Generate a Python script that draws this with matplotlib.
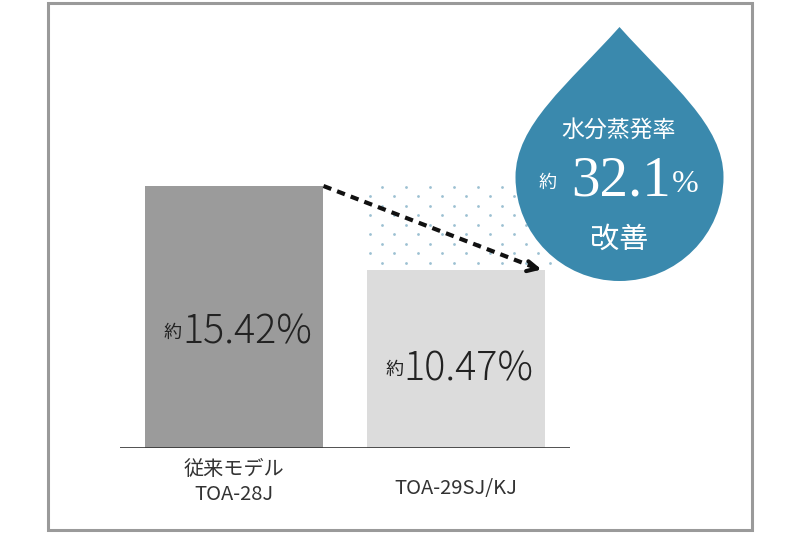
import numpy as np
import matplotlib.pyplot as plt
from matplotlib.path import Path
from matplotlib.patches import PathPatch, Rectangle

plt.rcParams['font.family'] = ['Noto Sans CJK JP', 'DejaVu Sans']

# data
models = ['従来モデル\nTOA-28J', 'TOA-29SJ/KJ']
rates = [15.42, 10.47]
bar_colors = ['#9b9b9b', '#dcdcdc']
improve = (rates[0] - rates[1]) / rates[0] * 100   # ~32.1

fig = plt.figure(figsize=(8, 5.33), dpi=100)

# bar axes
ax = fig.add_axes([120/800, 85/533, 450/800, 428/533])
w = 0.806
x = np.arange(len(models))
ax.bar(x, rates, width=w, color=bar_colors, zorder=2)
ax.set_xlim(-0.514, 1.514)
ax.set_ylim(0, 25.19)
ax.axis('off')
ax.axhline(0, color='#333333', lw=1.2, zorder=3)

# dotted area = reduced part above 2nd bar
left2 = x[1] - w/2
xs = np.arange(left2 + 0.015, x[1] + w/2, 0.108)
ys = np.arange(rates[1] + 0.42, rates[0], 0.56)
for i, yy in enumerate(ys):
    off = 0.054 if i % 2 == 0 else 0
    ax.scatter(xs + off, np.full(len(xs), yy), s=4, color='#9cc0d2', lw=0, zorder=1)

# dashed arrow
x0, x1 = x[0] + w/2, x[1] + w/2 - 0.005
ax.plot([x0, x1 - 0.03], [rates[0], rates[1] + 0.09], ls=(0, (2, 1.5)), lw=3,
        color='#111111', solid_capstyle='butt', zorder=4)
ax.annotate('', xy=(x1, rates[1]), xytext=(x1 - 0.06, rates[1] + 0.18),
            arrowprops=dict(arrowstyle='->', lw=3, color='#111111', mutation_scale=18),
            zorder=4)

# value labels
for xi, v in zip(x, rates):
    yy = v * 0.44
    ax.text(xi - 0.235, yy, '約', ha='right', va='center', fontsize=13, color='#222222', zorder=5)
    ax.text(xi - 0.235, yy, f'{v:.2f}%', ha='left', va='center', fontsize=28.5,
            fontweight='light', color='#222222', zorder=5)

# category labels
ax.text(x[0], -2.0, models[0], ha='center', va='center', fontsize=14.5,
        color='#333333', linespacing=1.25, clip_on=False)
ax.text(x[1], -2.4, models[1], ha='center', va='center', fontsize=14.5,
        color='#333333', clip_on=False)

# overlay in pixel coords
ov = fig.add_axes([0, 0, 1, 1], zorder=5)
ov.set_xlim(0, 800)
ov.set_ylim(533, 0)
ov.axis('off')
ov.patch.set_alpha(0)

ov.add_patch(Rectangle((48, 3), 704, 527, fill=False, ec='#9a9a9a', lw=2.2))

# water drop
cx, cy, r, tip = 619.5, 177, 104, 27
k = 0.5523
verts = [(cx, tip),
         (cx - 0.5*r, tip + 58), (cx - r, cy - 0.5*r), (cx - r, cy),
         (cx - r, cy + k*r), (cx - k*r, cy + r), (cx, cy + r),
         (cx + k*r, cy + r), (cx + r, cy + k*r), (cx + r, cy),
         (cx + r, cy - 0.5*r), (cx + 0.5*r, tip + 58), (cx, tip),
         (cx, tip)]
codes = [Path.MOVETO] + [Path.CURVE4]*12 + [Path.CLOSEPOLY]
ov.add_patch(PathPatch(Path(verts, codes), fc='#3a89ad', ec='none'))

ov.text(cx - 1, 130, '水分蒸発率', ha='center', va='center', fontsize=16.5, color='white')
ov.text(548, 183, '約', ha='center', va='center', fontsize=13, color='white')
ov.text(621, 181, f'{improve:.1f}', ha='center', va='center', fontsize=41,
        color='white', family='Liberation Serif')
ov.text(685, 184, '%', ha='center', va='center', fontsize=23,
        color='white', family='Liberation Serif')
ov.text(cx, 240, '改善', ha='center', va='center', fontsize=21, color='white')

fig.savefig('out.png', dpi=100)
